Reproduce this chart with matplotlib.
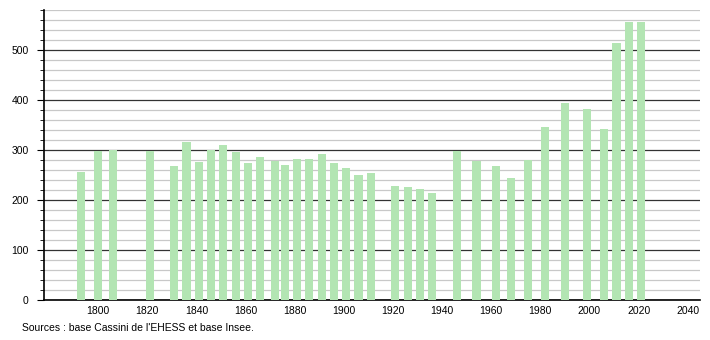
import matplotlib.pyplot as plt
from matplotlib.ticker import MultipleLocator

plt.rcParams['font.family'] = ['Liberation Sans', 'DejaVu Sans']

# census years and population
years = [1793, 1800, 1806, 1821, 1831, 1836, 1841, 1846, 1851, 1856, 1861, 1866,
         1872, 1876, 1881, 1886, 1891, 1896, 1901, 1906, 1911, 1921, 1926, 1931,
         1936, 1946, 1954, 1962, 1968, 1975, 1982, 1990, 1999, 2006, 2011, 2016, 2021]
population = [257, 298, 300, 299, 269, 316, 276, 300, 310, 296, 274, 287,
              279, 270, 282, 282, 292, 274, 264, 250, 254, 228, 226, 222,
              214, 298, 279, 268, 244, 280, 346, 394, 382, 342, 514, 556, 556]
xtick_years = [1800, 1820, 1840, 1860, 1880, 1900, 1920, 1940, 1960, 1980, 2000, 2020, 2040]
source_text = "Sources : base Cassini de l'EHESS et base Insee."

fig = plt.figure(figsize=(7.1, 3.4), dpi=100)
ax = fig.add_axes([0.062, 0.1176, 0.924, 0.853])

ax.bar(years, population, width=3.3, color='#b3e5b3', zorder=3)

ax.set_xlim(1778, 2045)
ax.set_ylim(0, 580)
ax.set_xticks(xtick_years)
ax.yaxis.set_major_locator(MultipleLocator(100))
ax.yaxis.set_minor_locator(MultipleLocator(20))

ax.grid(True, which='major', axis='y', color='#333333', linewidth=0.9, zorder=1)
ax.grid(True, which='minor', axis='y', color='#c8c8c8', linewidth=0.9, zorder=0)

for s in ['top', 'right']:
    ax.spines[s].set_visible(False)
ax.spines['left'].set_linewidth(1.2)
ax.spines['bottom'].set_linewidth(1.2)

ax.tick_params(axis='x', length=0, labelsize=7.5, pad=4)
ax.tick_params(axis='y', which='major', length=5, labelsize=7.5, pad=6)
ax.tick_params(axis='y', which='minor', length=3)

fig.text(0.031, 0.035, source_text, fontsize=7.5, ha='left', va='center')

fig.savefig('out.png', dpi=100)
